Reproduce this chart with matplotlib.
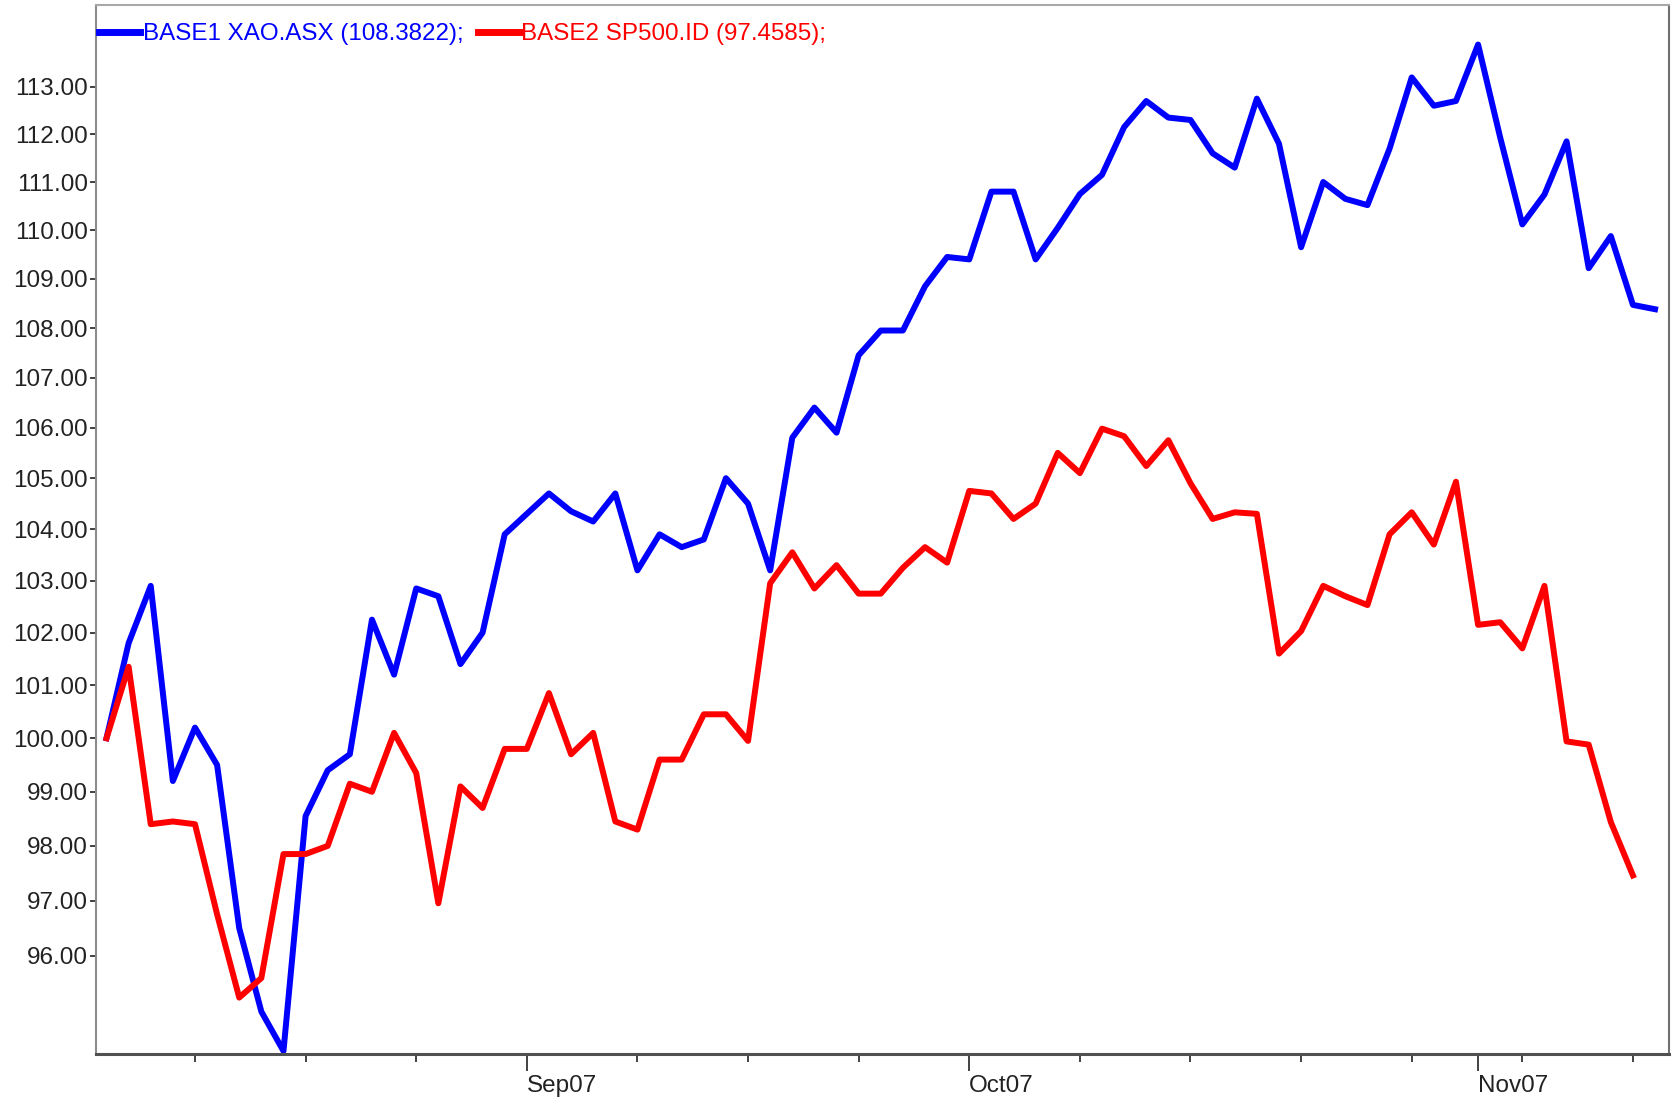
import numpy as np
import matplotlib.pyplot as plt
from matplotlib.ticker import FixedLocator, NullLocator, FixedFormatter, FormatStrFormatter

# rebased to 100, one value per trading day (Aug07 .. mid Nov07)
xao = [100.0, 101.8, 102.9, 99.2, 100.2, 99.5, 96.5, 95.0, 94.3, 98.55,
       99.4, 99.7, 102.25, 101.2, 102.85, 102.7, 101.4, 102.0, 103.9, 104.3,
       104.7, 104.35, 104.15, 104.7, 103.2, 103.9, 103.65, 103.8, 105.0, 104.5,
       103.2, 105.8, 106.4, 105.9, 107.45, 107.95, 107.95, 108.85, 109.45, 109.4,
       110.8, 110.8, 109.4, 110.05, 110.75, 111.15, 112.15, 112.7, 112.35, 112.3,
       111.6, 111.3, 112.75, 111.8, 109.65, 111.0, 110.65, 110.52, 111.7, 113.2,
       112.6, 112.7, 113.9, 111.93, 110.12, 110.74, 111.85, 109.22, 109.88, 108.47,
       108.3822]
sp500 = [100.0, 101.35, 98.4, 98.45, 98.4, 96.75, 95.25, 95.6, 97.85, 97.85,
         98.0, 99.15, 99.0, 100.1, 99.35, 96.95, 99.1, 98.7, 99.8, 99.8,
         100.85, 99.7, 100.1, 98.45, 98.3, 99.6, 99.6, 100.45, 100.45, 99.95,
         102.95, 103.55, 102.85, 103.3, 102.75, 102.75, 103.25, 103.65, 103.35, 104.75,
         104.7, 104.2, 104.5, 105.5, 105.1, 105.98, 105.83, 105.24, 105.75, 104.9,
         104.2, 104.33, 104.3, 101.6, 102.03, 102.9, 102.7, 102.53, 103.9, 104.33,
         103.7, 104.93, 102.15, 102.2, 101.7, 102.9, 99.94, 99.88, 98.44,
         97.4585]

week_ticks = [4, 9, 14, 19, 24, 29, 34, 39, 44, 49, 54, 59, 62, 64, 69]
month_ticks = [19, 39, 62]
month_labels = ['Sep07', 'Oct07', 'Nov07']
y_ticks = list(range(96, 114))

plt.rcParams['font.family'] = ['Liberation Sans', 'DejaVu Sans']
plt.rcParams['font.size'] = 17

fig = plt.figure(figsize=(16.78, 11.02), dpi=100)
ax = fig.add_axes([0.0574, 0.0437, 0.9375, 0.9514])

ax.plot(np.arange(len(xao)), xao, color='#0000ff', linewidth=4.3,
        label='BASE1 XAO.ASX (%.4f);' % xao[-1])
ax.plot(np.arange(len(sp500)), sp500, color='#ff0000', linewidth=4.3,
        label='BASE2 SP500.ID (%.4f);' % sp500[-1])

ax.set_yscale('log')
ax.set_ylim(94.25, 114.74)
ax.set_xlim(-0.46, 70.65)

ax.yaxis.set_major_locator(FixedLocator(y_ticks))
ax.yaxis.set_minor_locator(NullLocator())
ax.yaxis.set_major_formatter(FormatStrFormatter('%.2f'))
ax.tick_params(axis='y', which='major', length=4, width=1.2, pad=2,
               colors='#222222', labelsize=17.5)

ax.xaxis.set_major_locator(FixedLocator(month_ticks))
ax.xaxis.set_major_formatter(FixedFormatter(month_labels))
ax.xaxis.set_minor_locator(FixedLocator([t for t in week_ticks if t not in month_ticks]))
ax.tick_params(axis='x', which='major', length=12, width=1.2, pad=3,
               colors='#222222', labelsize=17.5)
ax.tick_params(axis='x', which='minor', length=6, width=1.2, colors='#222222')
for lbl in ax.get_xticklabels():
    lbl.set_horizontalalignment('left')

ax.spines['left'].set_color('#8c8c8c')
ax.spines['top'].set_color('#a8a8a8')
ax.spines['right'].set_color('#707070')
ax.spines['bottom'].set_color('#505050')
ax.spines['left'].set_linewidth(1.5)
ax.spines['top'].set_linewidth(1.5)
ax.spines['right'].set_linewidth(1.5)
ax.spines['bottom'].set_linewidth(2.2)

leg = ax.legend(loc='upper left', bbox_to_anchor=(-0.0095, 1), ncol=2, frameon=False,
                handlelength=1.7, handletextpad=0.1, columnspacing=0.6,
                borderaxespad=0, borderpad=0.73, fontsize=17.4)
for h, t in zip(leg.legend_handles, leg.get_texts()):
    h.set_linewidth(5)
    t.set_color(h.get_color())

fig.savefig('out.png', dpi=100)
